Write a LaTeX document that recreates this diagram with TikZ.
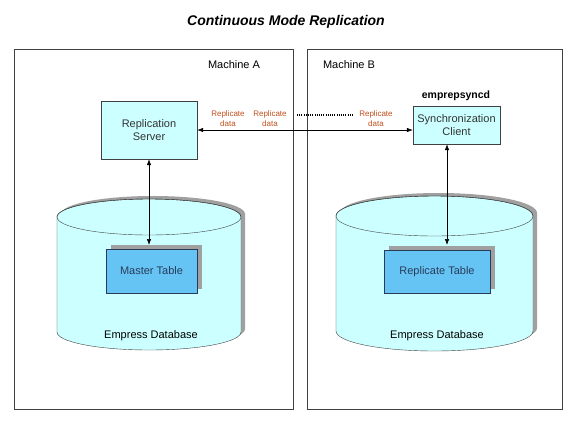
\documentclass[tikz,border=0pt]{standalone}
\usepackage{fontspec}
\setmainfont{Liberation Sans}
\usetikzlibrary{arrows.meta,shadows}
\definecolor{paleCyan}{RGB}{204,255,255}
\definecolor{tableBlue}{RGB}{102,196,245}
\definecolor{tableEdge}{RGB}{40,60,90}
\definecolor{edgeGray}{RGB}{64,64,64}
\definecolor{rustText}{RGB}{190,80,30}
\definecolor{shadeGray}{RGB}{160,160,160}
\begin{document}
\begin{tikzpicture}[x=1pt,y=1pt,font=\fontsize{11}{13}\selectfont,
  machine/.style={draw=edgeGray,line width=0.9pt,rectangle,inner sep=0pt},
  procbox/.style={draw=edgeGray,fill=paleCyan,rectangle,align=center,text=black!80},
  tablebox/.style={draw=tableEdge,fill=tableBlue,rectangle,text=tableEdge,
    drop shadow={shadow xshift=5pt,shadow yshift=4pt,fill=shadeGray,opacity=1}},
  note/.style={align=center,text=rustText,font=\fontsize{8}{10}\selectfont},
  link/.style={{Latex[length=6pt,width=4.5pt]}-{Latex[length=6pt,width=4.5pt]},line width=0.6pt}]
\useasboundingbox (0,0) rectangle (576,-432);
\node (title) at (286,-22) {\fontsize{14}{16}\selectfont\bfseries\itshape Continuous Mode Replication};
% machines
\node[machine,minimum width=279pt,minimum height=360pt] (macha) at (153.5,-229) {};
\node[machine,minimum width=255pt,minimum height=360pt] (machb) at (435,-229) {};
\node (laba) at (234,-65) {Machine A};
\node (labb) at (349,-65) {Machine B};
% database drums
\foreach \cx/\rx/\ry/\yt/\yb in {149/92/18/217/332, 434.5/98.5/20/216/331}{
  \fill[shadeGray,shift={(4pt,3pt)}] (\cx-\rx,-\yt) -- (\cx-\rx,-\yb)
    arc[start angle=180,end angle=360,x radius=\rx,y radius=\ry] -- (\cx+\rx,-\yt)
    arc[start angle=0,end angle=180,x radius=\rx,y radius=\ry] -- cycle;
  \draw[edgeGray,fill=paleCyan] (\cx-\rx,-\yt) -- (\cx-\rx,-\yb)
    arc[start angle=180,end angle=360,x radius=\rx,y radius=\ry] -- (\cx+\rx,-\yt)
    arc[start angle=0,end angle=180,x radius=\rx,y radius=\ry] -- cycle;
  \draw[edgeGray] (\cx,-\yt) ellipse[x radius=\rx,y radius=\ry];
}
\node (dba) at (151,-336) {Empress Database};
\node (dbb) at (437,-336) {Empress Database};
% tables
\node[tablebox,minimum width=91pt,minimum height=44pt] (mtab) at (151.5,-271) {Master Table};
\node[tablebox,minimum width=106pt,minimum height=43pt] (rtab) at (437,-271.5) {Replicate Table};
\coordinate (mtop) at (149,-245);
\coordinate (rtop) at (447,-245);
% processes
\node[procbox,minimum width=96pt,minimum height=58pt] (server) at (149,-130) {Replication\\Server};
\node[procbox,minimum width=87pt,minimum height=38pt,inner sep=1pt] (sync) at (456.5,-125) {Synchronization\\Client};
\node[font=\fontsize{10.5}{12}\selectfont\bfseries] (daemon) at (456,-96) {emprepsyncd};
% links
\draw[link] (server.east) -- (server.east -| sync.west);
\draw[link] (server.south) -- (mtop);
\draw[link] (sync.south -| rtop) -- (rtop);
\node[note] (rd1) at (228,-119) {Replicate\\data};
\node[note] (rd2) at (270,-119) {Replicate\\data};
\node[note] (rd3) at (376,-119) {Replicate\\data};
\coordinate (dotA) at (297,-115);
\coordinate (dotB) at (353,-115);
\draw[dash pattern=on 1pt off 1.2pt,line width=1.3pt] (dotA) -- (dotB);
\end{tikzpicture}
\end{document}
